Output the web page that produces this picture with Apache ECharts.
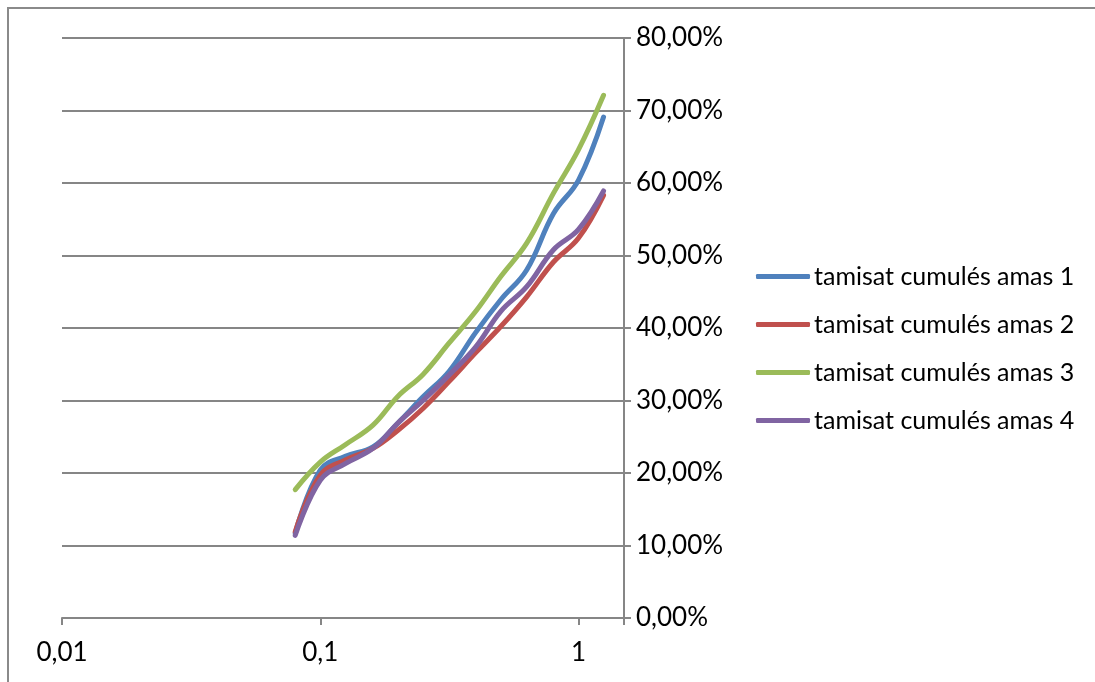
<!DOCTYPE html>
<html><head><meta charset="utf-8">
<script src="https://cdn.jsdelivr.net/npm/echarts@6/dist/echarts.min.js"></script>
<style>html,body{margin:0;padding:0;background:#fff}#c{width:1095px;height:682px}</style>
</head><body><div id="c"></div>
<script>
const sieveSizes = [0.08, 0.1, 0.125, 0.16, 0.2, 0.25, 0.315, 0.4, 0.5, 0.63, 0.8, 1, 1.25];
const seriesNames = ['tamisat cumulés amas 1','tamisat cumulés amas 2','tamisat cumulés amas 3','tamisat cumulés amas 4'];
const amas1 = [11.7, 20.4, 22.3, 23.6, 26.9, 30.5, 34.0, 39.4, 43.9, 48.0, 55.8, 60.4, 69.1];
const amas2 = [11.9, 19.7, 21.8, 23.4, 25.9, 28.9, 32.6, 36.6, 40.2, 44.3, 49.1, 52.4, 58.3];
const amas3 = [17.7, 21.5, 23.9, 26.6, 30.6, 33.6, 37.9, 42.3, 47.1, 51.7, 58.6, 64.6, 72.1];
const amas4 = [11.4, 19.0, 21.3, 23.4, 26.9, 30.0, 33.5, 37.4, 42.3, 45.7, 50.8, 53.6, 58.9];
const colors = ['#4F81BD', '#C0504D', '#9BBB59', '#8064A2'];
const yTicks = [0, 10, 20, 30, 40, 50, 60, 70, 80];

const FONT = 'Lato';
const allData = [amas1, amas2, amas3, amas4];
const chart = echarts.init(document.getElementById('c'), null, {renderer: 'canvas'});
chart.setOption({
  animation: false,
  backgroundColor: '#fff',
  color: colors,
  graphic: [{type: 'rect', shape: {x: 8, y: 8, width: 1200, height: 800}, style: {fill: 'none', stroke: '#8a8a8a', lineWidth: 2}}],
  grid: {left: 62, right: 471, top: 38, bottom: 64, containLabel: false},
  legend: {
    orient: 'vertical', left: 751, top: 259, itemWidth: 54, itemHeight: 5, itemGap: 23,
    icon: 'roundRect',
    textStyle: {fontFamily: FONT, fontSize: 25, color: '#000', padding: [0, 0, 0, -1]},
    data: seriesNames
  },
  xAxis: {
    type: 'log', logBase: 10, min: 0.01, max: 1.5,
    axisLine: {show: true, lineStyle: {color: '#868686', width: 2}},
    axisTick: {show: true, length: 7, lineStyle: {color: '#868686', width: 2}},
    axisLabel: {fontFamily: FONT, fontSize: 26, color: '#000', margin: 22,
      formatter: v => { const l = Math.log10(v); return Math.abs(l - Math.round(l)) < 1e-6 ? String(v).replace('.', ',') : ''; }},
    splitLine: {show: false}
  },
  yAxis: {
    type: 'value', position: 'right', min: 0, max: 80, interval: 10,
    axisLine: {show: true, lineStyle: {color: '#868686', width: 2}},
    axisTick: {show: true, length: 7, lineStyle: {color: '#868686', width: 2}},
    axisLabel: {fontFamily: FONT, fontSize: 26, color: '#000', margin: 12,
      formatter: v => v.toFixed(2).replace('.', ',') + '%'},
    splitLine: {show: true, lineStyle: {color: '#868686', width: 2}}
  },
  series: seriesNames.map((n, i) => ({
    name: n, type: 'line', smooth: 0.4, showSymbol: false, symbol: 'none',
    lineStyle: {width: 5, color: colors[i], cap: 'round', join: 'round'},
    itemStyle: {color: colors[i]},
    data: sieveSizes.map((x, k) => [x, allData[i][k]])
  }))
});
</script></body></html>
